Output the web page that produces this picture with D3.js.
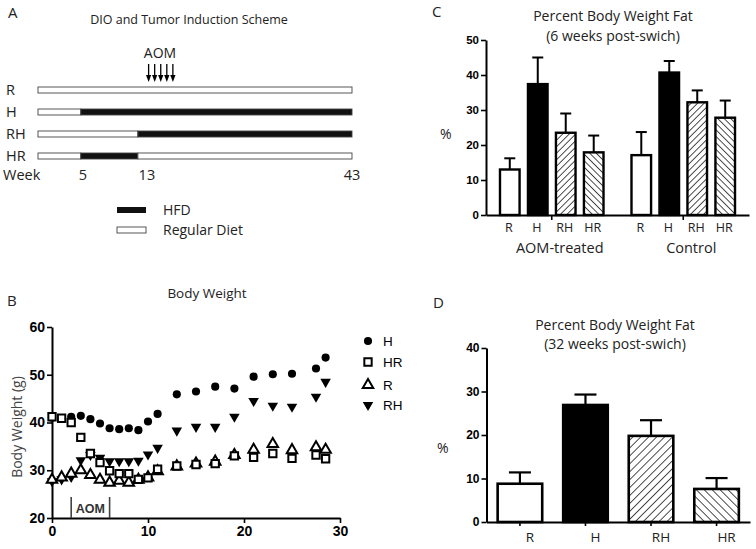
<!DOCTYPE html>
<html><head><meta charset="utf-8">
<script src="https://cdn.jsdelivr.net/npm/d3@7"></script>
<style>body{margin:0;background:#fff;} svg{display:block;}</style>
</head><body>
<script>
// ---------- DATA ----------
// Panel A: diet scheme
const schemeGroups = ['R','H','RH','HR'];
const schemeSegments = [
  {g:'R',  from:-1, to:43, diet:'Reg'},
  {g:'H',  from:-1, to:5,  diet:'Reg'}, {g:'H',  from:5,  to:43, diet:'HFD'},
  {g:'RH', from:-1, to:13, diet:'Reg'}, {g:'RH', from:13, to:43, diet:'HFD'},
  {g:'HR', from:-1, to:5,  diet:'Reg'}, {g:'HR', from:5,  to:13, diet:'HFD'}, {g:'HR', from:13, to:43, diet:'Reg'}
];
const schemeWeekLabels = [5, 13, 43];
const aomArrowWeeks = [14.5, 15.35, 16.2, 17.05, 17.9];

// Panel B: body weight (g) by week
const bWeeks = [0,1,2,3,4,5,6,7,8,9,10,11,13,15,17,19,21,23,25,27.5,28.5];
const bH  = [41.0,40.9,41.2,41.4,40.7,39.8,38.8,38.6,38.8,38.4,40.2,41.8,45.9,46.5,47.5,47.1,49.6,50.1,50.2,51.3,53.6];
const bHR = [41.2,40.9,40.0,36.9,33.5,31.6,29.9,29.3,29.3,28.1,28.4,30.2,30.9,31.2,31.4,33.0,32.7,33.5,32.5,33.2,32.4];
const bR  = [28.0,28.5,29.3,30.0,29.0,28.0,27.4,27.8,27.4,28.0,28.5,29.8,30.8,31.4,31.8,33.2,34.3,35.5,34.2,34.8,34.3];
const bRH = [27.7,28.1,28.6,32.1,33.2,32.6,31.9,31.9,31.9,32.0,33.3,34.7,38.3,39.1,39.1,41.2,44.5,43.5,43.3,45.4,48.5];
const bYTicks = [20,30,40,50,60];
const bXTicks = [0,10,20,30];
const bAOM = [2, 6];

// Panel C: % body fat, 6 weeks post-switch
const cGroups = ['AOM-treated','Control'];
const cDiets = ['R','H','RH','HR'];
const cMeanAOM = [13.0, 37.4, 23.5, 17.9];
const cErrAOM  = [3.2, 7.6, 5.5, 4.8];
const cMeanCtl = [17.1, 40.7, 32.2, 27.8];
const cErrCtl  = [6.6, 3.3, 3.4, 4.9];
const cYTicks = [0,10,20,30,40,50];

// Panel D: % body fat, 32 weeks post-switch
const dDiets = ['R','H','RH','HR'];
const dMean = [8.8, 26.9, 19.8, 7.6];
const dErr  = [2.6, 2.4, 3.6, 2.5];
const dYTicks = [0,10,20,30,40];

// ---------- STYLE ----------
const SANS = "'Open Sans','Noto Sans',sans-serif";
const ARIAL = "'Liberation Sans',Arial,sans-serif";
const TXT = '#222';

const svg = d3.select('body').append('svg').attr('width',756).attr('height',549);
const defs = svg.append('defs');
function hatch(id, spacing, dir){
  const p = defs.append('pattern').attr('id',id).attr('patternUnits','userSpaceOnUse')
    .attr('width',spacing).attr('height',spacing)
    .attr('patternTransform','rotate('+(dir>0?45:-45)+')');
  p.append('rect').attr('width',spacing).attr('height',spacing).attr('fill','#fff');
  p.append('line').attr('x1',0).attr('y1',0).attr('x2',0).attr('y2',spacing)
    .attr('stroke','#000').attr('stroke-width',1.4);
}
hatch('fwdC',4.6,1); hatch('bckC',4.6,-1);
hatch('fwdD',5.6,1); hatch('bckD',5.6,-1);
const fillFor = (diet, panel) => diet==='R' ? '#fff' : diet==='H' ? '#000' : diet==='RH' ? 'url(#fwd'+panel+')' : 'url(#bck'+panel+')';

function txt(g, x, y, s, size, opts={}){
  return g.append('text').attr('x',x).attr('y',y).text(s)
    .attr('font-family',opts.family||SANS).attr('font-size',size)
    .attr('font-weight',opts.weight||'normal')
    .attr('text-anchor',opts.anchor||'start').attr('fill',opts.fill||TXT);
}
function styleAxis(g, fs){
  g.selectAll('path.domain').attr('stroke','#000').attr('stroke-width',2);
  g.selectAll('.tick line').attr('stroke','#000').attr('stroke-width',1.6);
  g.selectAll('.tick text').attr('font-family',ARIAL).attr('font-weight','bold').attr('font-size',fs).attr('fill','#000');
}

// ---------- PANEL A ----------
const A = svg.append('g');
txt(A, 8, 18, 'A', 15);
txt(A, 189, 24, 'DIO and Tumor Induction Scheme', 12.5, {anchor:'middle'});
txt(A, 160, 58, 'AOM', 14, {anchor:'middle'});
const aX = d3.scaleLinear().domain([-1,43]).range([38,352]);
const aY = d3.scalePoint().domain(schemeGroups).range([90,156]);
aomArrowWeeks.forEach(w=>{
  const x = aX(w);
  A.append('line').attr('x1',x).attr('x2',x).attr('y1',64).attr('y2',77).attr('stroke','#000').attr('stroke-width',1.3);
  A.append('path').attr('d',`M${x-2.6},75L${x+2.6},75L${x},82Z`).attr('fill','#000');
});
A.selectAll('rect.seg').data(schemeSegments).enter().append('rect')
  .attr('x',d=>aX(d.from)).attr('width',d=>aX(d.to)-aX(d.from))
  .attr('y',d=>aY(d.g)-3).attr('height',6)
  .attr('fill',d=>d.diet==='HFD'?'#111':'#fff').attr('stroke','#444').attr('stroke-width',0.9);
schemeGroups.forEach(g=>txt(A, 6, aY(g)+5, g, 14.5));
txt(A, 3, 180, 'Week', 14.5);
schemeWeekLabels.forEach(w=>txt(A, aX(w) + (w===13?9:w===5?2:0), 180, String(w), 14.5, {anchor:'middle'}));
A.append('rect').attr('x',117).attr('y',207).attr('width',29).attr('height',6).attr('fill','#111');
A.append('rect').attr('x',117).attr('y',227).attr('width',29).attr('height',6).attr('fill','#fff').attr('stroke','#444').attr('stroke-width',0.9);
txt(A, 163, 215, 'HFD', 14);
txt(A, 163, 235, 'Regular Diet', 14);

// ---------- PANEL B ----------
const B = svg.append('g');
txt(B, 7, 306, 'B', 15);
txt(B, 207, 298, 'Body Weight', 13.5, {anchor:'middle'});
const bx = d3.scaleLinear().domain([0,30]).range([52,340]);
const by = d3.scaleLinear().domain([20,60]).range([518,327]);
const gbx = B.append('g').attr('transform','translate(0,518)')
  .call(d3.axisBottom(bx).tickValues(bXTicks).tickSize(5).tickSizeOuter(0).tickPadding(3));
styleAxis(gbx, 14);
const gby = B.append('g').attr('transform','translate(52,0)')
  .call(d3.axisLeft(by).tickValues(bYTicks).tickSize(5).tickSizeOuter(0).tickPadding(2));
styleAxis(gby, 14);
B.append('text').attr('transform','translate(22,427) rotate(-90)').attr('text-anchor','middle')
  .attr('font-family',SANS).attr('font-size',14).attr('fill','#444').text('Body Weight (g)');
bAOM.forEach(w=>B.append('line').attr('x1',bx(w)).attr('x2',bx(w)).attr('y1',by(20)).attr('y2',by(24.4))
  .attr('stroke','#444').attr('stroke-width',1.6));
txt(B, bx(4), by(20)-5, 'AOM', 12.5, {family:ARIAL, weight:'bold', anchor:'middle', fill:'#333'});

const series = [
  {name:'H',  vals:bH,  type:d3.symbolCircle,   size:52, fill:'#000', stroke:'none', rot:0},
  {name:'RH', vals:bRH, type:d3.symbolTriangle, size:48, fill:'#000', stroke:'none', rot:180},
  {name:'R',  vals:bR,  type:d3.symbolTriangle, size:48, fill:'#fff', stroke:'#000', rot:0},
  {name:'HR', vals:bHR, type:d3.symbolSquare,   size:54, fill:'#fff', stroke:'#000', rot:0}
];
series.forEach(s=>{
  const sym = d3.symbol().type(s.type).size(s.size);
  B.append('g').selectAll('path').data(bWeeks.map((w,i)=>({w, v:s.vals[i]}))).enter().append('path')
    .attr('d',sym).attr('transform',d=>`translate(${bx(d.w)},${by(d.v)}) rotate(${s.rot})`)
    .attr('fill',s.fill).attr('stroke',s.stroke).attr('stroke-width',2);
});
const legendOrder = ['H','HR','R','RH'];
const legendY = [341, 362, 385, 405];
legendOrder.forEach((n,i)=>{
  const s = series.find(t=>t.name===n);
  B.append('path').attr('d',d3.symbol().type(s.type).size(s.size))
    .attr('transform',`translate(368,${legendY[i]}) rotate(${s.rot})`)
    .attr('fill',s.fill).attr('stroke',s.stroke).attr('stroke-width',2);
  txt(B, 383, legendY[i]+5, n, 13.5, {family:ARIAL, fill:'#000'});
});

// ---------- PANEL C ----------
const C = svg.append('g');
txt(C, 432, 17, 'C', 15);
txt(C, 613, 21, 'Percent Body Weight Fat', 14, {anchor:'middle'});
txt(C, 613, 41, '(6 weeks post-swich)', 14, {anchor:'middle'});
txt(C, 440, 139, '%', 14);
const cy = d3.scaleLinear().domain([0,50]).range([215,40]);
const cg = d3.scaleBand().domain(cGroups).range([486,749]);
const cb = d3.scaleBand().domain(cDiets).range([0,cg.bandwidth()]).paddingInner(0.3).paddingOuter(0.5);
const cData = [];
cGroups.forEach((g,gi)=>cDiets.forEach((d,i)=>cData.push({g, d,
  m:(gi===0?cMeanAOM:cMeanCtl)[i], e:(gi===0?cErrAOM:cErrCtl)[i]})));
const gcx = C.append('g').attr('transform','translate(0,215)')
  .call(d3.axisBottom(cg).tickSize(5).tickSizeOuter(0).tickFormat(''));
styleAxis(gcx, 11);
const gcy = C.append('g').attr('transform','translate(486,0)')
  .call(d3.axisLeft(cy).tickValues(cYTicks).tickSize(5).tickSizeOuter(0).tickPadding(2));
styleAxis(gcy, 11.5);
cData.forEach(r=>{
  const x0 = cg(r.g)+cb(r.d), w = cb.bandwidth(), cx = x0+w/2;
  C.append('line').attr('x1',cx).attr('x2',cx).attr('y1',cy(r.m)).attr('y2',cy(r.m+r.e)).attr('stroke','#000').attr('stroke-width',2);
  C.append('line').attr('x1',cx-5.5).attr('x2',cx+5.5).attr('y1',cy(r.m+r.e)).attr('y2',cy(r.m+r.e)).attr('stroke','#000').attr('stroke-width',2);
  C.append('rect').attr('x',x0).attr('width',w).attr('y',cy(r.m)).attr('height',cy(0)-cy(r.m))
    .attr('fill',fillFor(r.d,'C')).attr('stroke','#000').attr('stroke-width',2.4);
  txt(C, cx-1, 232, r.d, 12.5, {anchor:'middle'});
});
cGroups.forEach(g=>txt(C, cg(g)+cg.bandwidth()/2+8, 253, g, 14.5, {anchor:'middle'}));

// ---------- PANEL D ----------
const D = svg.append('g');
txt(D, 433, 308, 'D', 15);
txt(D, 615, 330, 'Percent Body Weight Fat', 14, {anchor:'middle'});
txt(D, 615, 349, '(32 weeks post-swich)', 14, {anchor:'middle'});
txt(D, 437, 453, '%', 14);
const dy = d3.scaleLinear().domain([0,40]).range([522,348]);
const dx = d3.scaleBand().domain(dDiets).range([486.5,750]).paddingInner(0.32).paddingOuter(0.17);
dDiets.forEach((d,i)=>{
  const x0 = dx(d), w = dx.bandwidth(), cx = x0+w/2, m = dMean[i], e = dErr[i];
  D.append('line').attr('x1',cx).attr('x2',cx).attr('y1',dy(m)).attr('y2',dy(m+e)).attr('stroke','#000').attr('stroke-width',2.2);
  D.append('line').attr('x1',cx-11).attr('x2',cx+11).attr('y1',dy(m+e)).attr('y2',dy(m+e)).attr('stroke','#000').attr('stroke-width',2.2);
  D.append('rect').attr('x',x0).attr('width',w).attr('y',dy(m)).attr('height',dy(0)-dy(m))
    .attr('fill',fillFor(d,'D')).attr('stroke','#000').attr('stroke-width',2.6);
});
const gdx = D.append('g').attr('transform','translate(0,522)')
  .call(d3.axisBottom(dx).tickSize(4).tickSizeOuter(0).tickPadding(6));
styleAxis(gdx, 13);
gdx.selectAll('.tick text').attr('font-family',SANS).attr('font-weight','normal').attr('fill',TXT).attr('dx',10).attr('font-size',13.5);
const gdy = D.append('g').attr('transform','translate(486.5,0)')
  .call(d3.axisLeft(dy).tickValues(dYTicks).tickSize(5).tickSizeOuter(0).tickPadding(2));
styleAxis(gdy, 12);
</script>
</body></html>
